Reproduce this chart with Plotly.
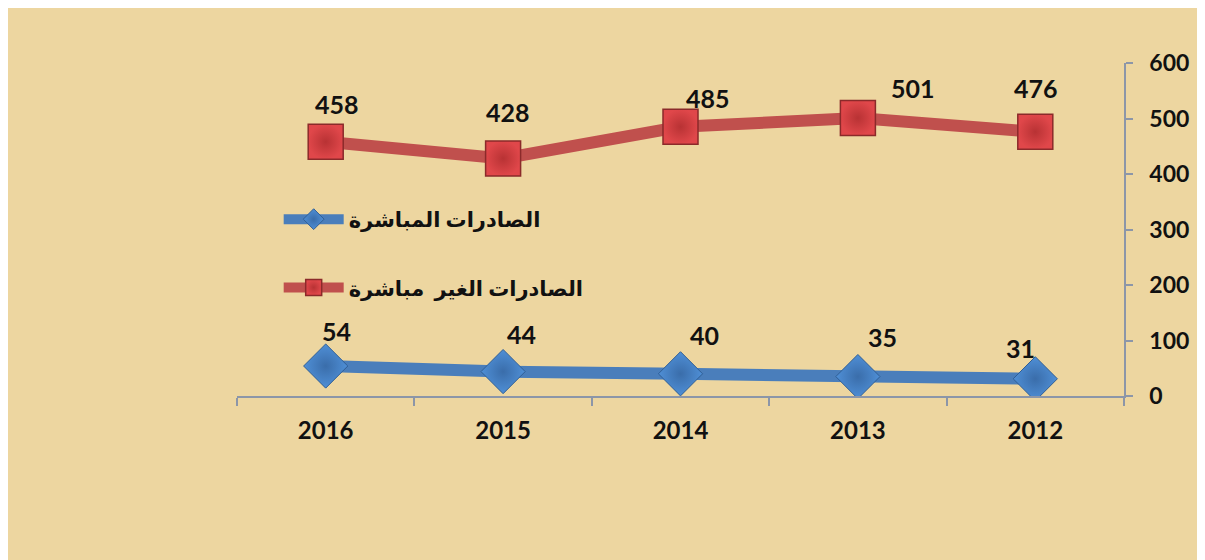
import plotly.graph_objects as go

years = ["2016", "2015", "2014", "2013", "2012"]
direct_exports = [54, 44, 40, 35, 31]
indirect_exports = [458, 428, 485, 501, 476]
name_direct = "الصادرات المباشرة"
name_indirect = "الصادرات الغير  مباشرة"
y_ticks = [0, 100, 200, 300, 400, 500, 600]

# label offsets in pixels (style, not data)
off_indirect = [(11, -38), (5, -46), (27, -29), (55, -30), (1, -44)]
off_direct = [(11, -35), (18, -38), (24, -39), (25, -40), (-15, -31)]

FONT = "Lato, 'DejaVu Sans', sans-serif"
BG = "#EDD6A0"

fig = go.Figure()
fig.add_trace(go.Scatter(
    x=years, y=direct_exports, name=name_direct, mode="lines+markers",
    line=dict(color="#4A7EBB", width=12),
    marker=dict(symbol="diamond", size=34, color="#4F8FD6",
                line=dict(color="#2F5E95", width=1),
                gradient=dict(type="radial", color="#3A6DAA")),
    legend="legend",
))
fig.add_trace(go.Scatter(
    x=years, y=indirect_exports, name=name_indirect, mode="lines+markers",
    line=dict(color="#C0504D", width=12),
    marker=dict(symbol="square", size=35, color="#E0474A",
                line=dict(color="#8B2A2A", width=1.5),
                gradient=dict(type="radial", color="#B83234")),
    legend="legend2",
))

annotations = []
for vals, offs in ((indirect_exports, off_indirect), (direct_exports, off_direct)):
    for i, (v, (dx, dy)) in enumerate(zip(vals, offs)):
        annotations.append(dict(
            x=i, y=v, xref="x", yref="y", text=f"<b>{v}</b>", showarrow=False,
            xshift=dx, yshift=-dy, font=dict(family=FONT, size=25, color="#111"),
        ))

legend_common = dict(
    bgcolor="rgba(0,0,0,0)",
    font=dict(family=FONT, size=21, color="#111", weight="bold"),
    itemwidth=60, xanchor="left", yanchor="middle", xref="paper", yref="paper",
)

fig.update_layout(
    width=1197, height=552,
    paper_bgcolor=BG, plot_bgcolor=BG,
    margin=dict(l=229, r=81, t=55, b=164),
    showlegend=True,
    legend=dict(x=0.047, y=0.53, **legend_common),
    legend2=dict(x=0.047, y=0.325, **legend_common),
    annotations=annotations,
    xaxis=dict(
        type="category", categoryorder="array", categoryarray=years,
        showgrid=False, zeroline=False, showline=True, linecolor="#8C96A8", linewidth=1.5,
        ticks="outside", ticklen=8, tickcolor="#8C96A8", tickwidth=1.5, tickson="boundaries",
        tickfont=dict(family=FONT, size=24, color="#111", weight="bold"),
        ticklabelstandoff=12, range=[-0.5, 4.5],
    ),
    yaxis=dict(
        side="right", range=[0, 600], tickvals=y_ticks, showgrid=False, zeroline=False,
        showline=True, linecolor="#8C96A8", linewidth=1.5, ticks="outside", ticklen=7,
        tickcolor="#8C96A8", tickwidth=1.5,
        tickfont=dict(family=FONT, size=23, color="#111", weight="bold"),
        ticklabelstandoff=12,
    ),
)

fig.write_html("out.html")
